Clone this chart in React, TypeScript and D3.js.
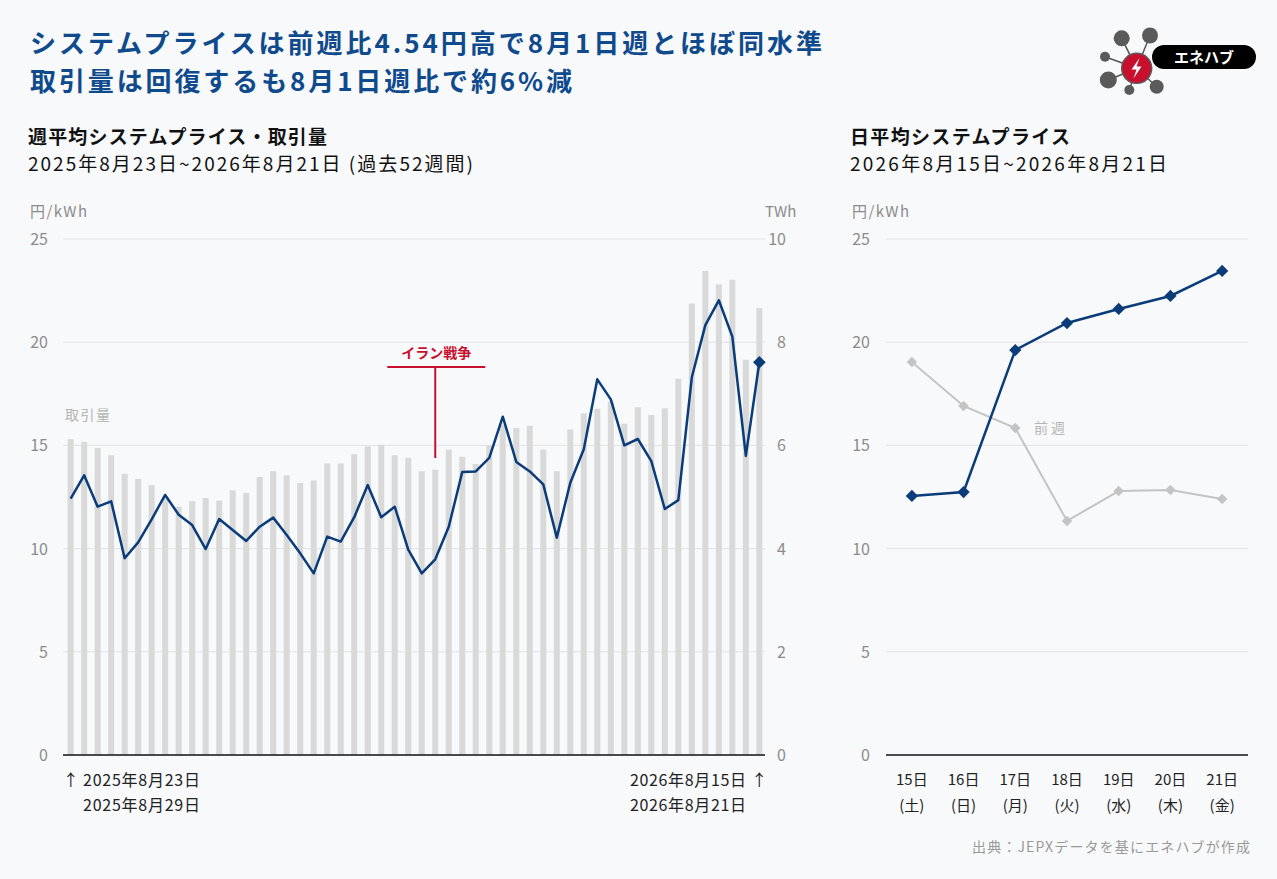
import React from 'react'
import * as d3 from 'd3'

// weekly averages, 2025/8/23 week .. 2026/8/15 week
const weekPrice = [
  12.42, 13.55, 12.03, 12.29, 9.53, 10.30, 11.42, 12.60, 11.64, 11.14,
  9.98, 11.43, 10.90, 10.37, 11.06, 11.50, 10.66, 9.77, 8.80, 10.58,
  10.34, 11.52, 13.08, 11.52, 12.03, 9.95, 8.80, 9.48, 11.06, 13.71,
  13.74, 14.40, 16.39, 14.20, 13.74, 13.11, 10.53, 13.19, 14.81, 18.20,
  17.23, 15.00, 15.31, 14.24, 11.92, 12.35, 18.30, 20.83, 22.03, 20.27,
  14.49, 19.03,
]
const weekVolume = [
  6.12, 6.07, 5.95, 5.81, 5.45, 5.35, 5.23, 4.98, 4.81, 4.92,
  4.98, 4.93, 5.13, 5.08, 5.39, 5.50, 5.42, 5.27, 5.32, 5.65,
  5.65, 5.83, 5.98, 6.01, 5.81, 5.76, 5.50, 5.53, 5.92, 5.78,
  5.64, 6.00, 6.40, 6.34, 6.38, 5.92, 5.50, 6.31, 6.62, 6.71,
  6.85, 6.42, 6.74, 6.59, 6.72, 7.29, 8.75, 9.38, 9.12, 9.21,
  7.66, 8.66,
]
const warWeek = 27

const dayLabels = ['15日', '16日', '17日', '18日', '19日', '20日', '21日']
const weekdayLabels = ['(土)', '(日)', '(月)', '(火)', '(水)', '(木)', '(金)']
const dayPrice = [12.55, 12.74, 19.62, 20.93, 21.61, 22.24, 23.45]
const prevDayPrice = [19.04, 16.91, 15.84, 11.34, 12.79, 12.84, 12.40]

const priceTicks = [0, 5, 10, 15, 20, 25]
const volumeTicks = [0, 2, 4, 6, 8, 10]

const W = 1277
const H = 879
const FONT = "'Noto Sans CJK JP', 'Noto Sans', sans-serif"
const NAVY = '#0b3c7a'
const TITLE = '#0f4a8c'
const GRID = '#e2e3e6'
const TICK = '#8c8c8c'
const RED = '#c8102e'

const top = 239
const bottom = 755

const diamond = (size: number) => d3.symbol(d3.symbolSquare, size)()!

const App: React.FC = () => {
  // left chart scales
  const x = d3.scaleBand<number>()
    .domain(d3.range(weekPrice.length))
    .range([64, 766])
    .paddingInner(0.555)
    .paddingOuter(0.27)
  const cx = (i: number) => x(i)! + x.bandwidth() / 2
  const yP = d3.scaleLinear().domain([0, 25]).range([bottom, top])
  const yV = d3.scaleLinear().domain([0, 10]).range([bottom, top])

  const priceLine = d3.line<number>()
    .x((_, i) => cx(i))
    .y(d => yP(d))

  // right chart scales
  const x2 = d3.scaleBand<string>().domain(dayLabels).range([886, 1248])
  const cx2 = (d: string) => x2(d)! + x2.bandwidth() / 2
  const dayLine = d3.line<number>()
    .x((_, i) => cx2(dayLabels[i]))
    .y(d => yP(d))

  const first = cx(0)
  const last = cx(weekPrice.length - 1)
  const warX = cx(warWeek)

  return (
    <svg width={W} height={H} viewBox={`0 0 ${W} ${H}`}
      style={{ position: 'absolute', left: 0, top: 0, background: '#f8f9fb' }}
      fontFamily={FONT}>
      <rect width={W} height={H} fill="#f8f9fb" />

      {/* title */}
      <g fill={TITLE} fontWeight="bold" fontSize={26}>
        <text x={30} y={53} textLength={792} lengthAdjust="spacing">システムプライスは前週比4.54円高で8月1日週とほぼ同水準</text>
        <text x={30} y={91} textLength={542} lengthAdjust="spacing">取引量は回復するも8月1日週比で約6%減</text>
      </g>

      {/* logo */}
      <g>
        {[[1121.7, 38.3, 8], [1150, 35.5, 8], [1105, 56.7, 5], [1108.3, 80, 8.5], [1129.3, 90, 5], [1156.7, 86.7, 7]].map(([a, b, r], i) => (
          <g key={i}>
            <line x1={1136.7} y1={68.3} x2={a} y2={b} stroke="#555" strokeWidth={1.5} />
            <circle cx={a} cy={b} r={r} fill="#5a5a5a" />
          </g>
        ))}
        <rect x={1152} y={45} width={104} height={24} rx={12} fill="#000" />
        <text x={1204} y={63} textAnchor="middle" fill="#fff" fontWeight="bold" fontSize={15}>エネハブ</text>
        <circle cx={1136.7} cy={68.3} r={15} fill="#c8102e" stroke="#5a5a5a" strokeWidth={1.5} />
        <path d="M1139.5,58 L1131.5,69.5 L1136.5,69.5 L1133.5,78.5 L1141.5,66.5 L1136.5,66.5 Z" fill="#fff" />
      </g>

      {/* left subtitle */}
      <text x={28} y={144} fontSize={19} fontWeight="bold" fill="#111" textLength={299} lengthAdjust="spacing">週平均システムプライス・取引量</text>
      <text x={28} y={171} fontSize={19} fill="#111" textLength={445} lengthAdjust="spacing">2025年8月23日~2026年8月21日 (過去52週間)</text>

      <text x={30} y={217} fontSize={15} fill={TICK} textLength={57} lengthAdjust="spacing">円/kWh</text>
      <text x={765} y={217} fontSize={15} fill={TICK}>TWh</text>

      {/* grid + ticks */}
      {priceTicks.map(t => (
        <g key={t}>
          {t > 0 && <line x1={63} x2={765} y1={yP(t)} y2={yP(t)} stroke={GRID} />}
          <text x={48} y={yP(t) + 6} textAnchor="end" fontSize={16} fill={TICK}>{t}</text>
        </g>
      ))}
      {volumeTicks.map(t => (
        <text key={t} x={786} y={yV(t) + 6} textAnchor="end" fontSize={16} fill={TICK}>{t}</text>
      ))}

      {/* volume bars */}
      {weekVolume.map((v, i) => (
        <rect key={i} x={x(i)} y={yV(v)} width={x.bandwidth()} height={bottom - yV(v)} fill="#d9d9d9" />
      ))}
      <text x={65} y={420} fontSize={14} fill="#b5b5b5" textLength={45} lengthAdjust="spacing">取引量</text>

      <line x1={63} x2={765} y1={bottom} y2={bottom} stroke="#111" strokeWidth={1.5} />

      {/* war annotation */}
      <g stroke={RED} strokeWidth={2}>
        <line x1={warX - 48} x2={warX + 50} y1={367} y2={367} />
        <line x1={warX} x2={warX} y1={367} y2={458} />
      </g>
      <text x={warX + 1} y={358} textAnchor="middle" fontSize={14} fontWeight="bold" fill={RED}>イラン戦争</text>

      {/* price line */}
      <path d={priceLine(weekPrice)!} fill="none" stroke={NAVY} strokeWidth={2.5} strokeLinejoin="round" />
      <path d={diamond(80)} transform={`translate(${last},${yP(weekPrice[weekPrice.length - 1])}) rotate(45)`} fill={NAVY} />

      {/* date labels */}
      <g fontSize={16} fill="#222">
        <text x={first} y={786} textAnchor="middle">↑</text>
        <text x={83} y={786} textLength={117} lengthAdjust="spacing">2025年8月23日</text>
        <text x={83} y={811} textLength={117} lengthAdjust="spacing">2025年8月29日</text>
        <text x={last} y={786} textAnchor="middle">↑</text>
        <text x={630} y={786} textLength={116} lengthAdjust="spacing">2026年8月15日</text>
        <text x={630} y={811} textLength={116} lengthAdjust="spacing">2026年8月21日</text>
      </g>

      {/* right subtitle */}
      <text x={850} y={144} fontSize={19} fontWeight="bold" fill="#111" textLength={220} lengthAdjust="spacing">日平均システムプライス</text>
      <text x={850} y={171} fontSize={19} fill="#111" textLength={317} lengthAdjust="spacing">2026年8月15日~2026年8月21日</text>
      <text x={852} y={217} fontSize={15} fill={TICK} textLength={57} lengthAdjust="spacing">円/kWh</text>

      {priceTicks.map(t => (
        <g key={t}>
          {t > 0 && <line x1={886} x2={1248} y1={yP(t)} y2={yP(t)} stroke={GRID} />}
          <text x={870} y={yP(t) + 6} textAnchor="end" fontSize={16} fill={TICK}>{t}</text>
        </g>
      ))}
      <line x1={886} x2={1248} y1={bottom} y2={bottom} stroke="#111" strokeWidth={1.5} />

      <path d={dayLine(prevDayPrice)!} fill="none" stroke="#c4c4c4" strokeWidth={2} />
      {prevDayPrice.map((v, i) => (
        <path key={i} d={diamond(55)} transform={`translate(${cx2(dayLabels[i])},${yP(v)}) rotate(45)`} fill="#c4c4c4" />
      ))}
      <text x={1034} y={433} fontSize={14} fill="#b5b5b5" textLength={31} lengthAdjust="spacing">前週</text>

      <path d={dayLine(dayPrice)!} fill="none" stroke={NAVY} strokeWidth={2.5} />
      {dayPrice.map((v, i) => (
        <path key={i} d={diamond(75)} transform={`translate(${cx2(dayLabels[i])},${yP(v)}) rotate(45)`} fill={NAVY} />
      ))}

      <g fontSize={15} fill="#222" textAnchor="middle">
        {dayLabels.map((d, i) => (
          <g key={d}>
            <text x={cx2(d)} y={785}>{d}</text>
            <text x={cx2(d)} y={811}>{weekdayLabels[i]}</text>
          </g>
        ))}
      </g>

      <text x={1250} y={852} textAnchor="end" fontSize={14} fill="#999" textLength={278} lengthAdjust="spacing">出典：JEPXデータを基にエネハブが作成</text>
    </svg>
  )
}

export default App
